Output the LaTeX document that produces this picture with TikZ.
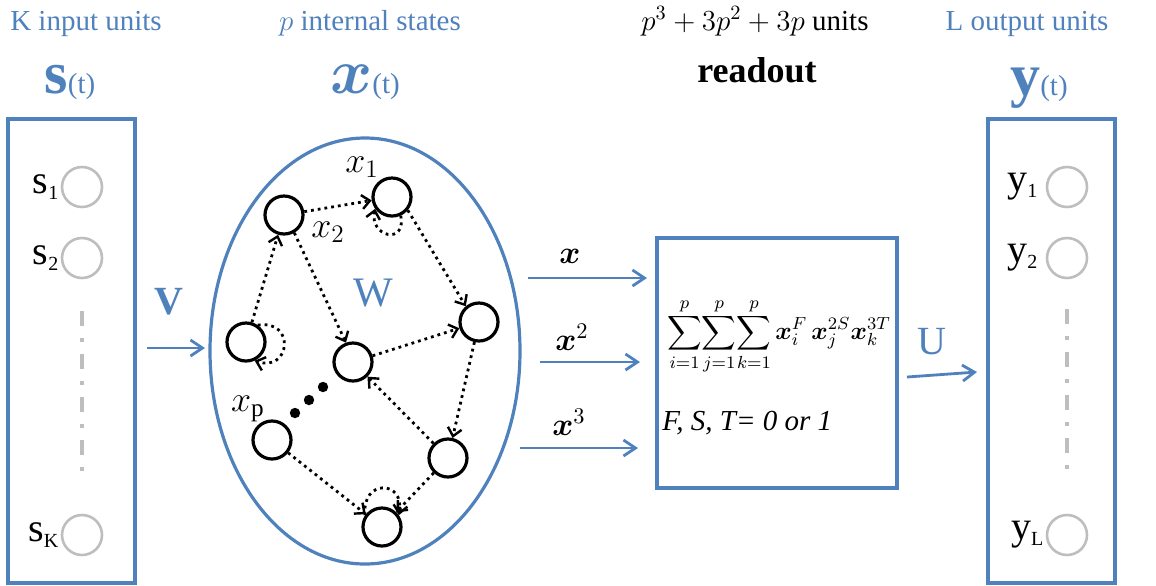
\documentclass[tikz,border=0pt]{standalone}
\usepackage{fix-cm}
\usepackage{exscale}
\usepackage{fontspec}
\setmainfont{Liberation Serif}
\usepackage{bm}
\usetikzlibrary{arrows.meta,shapes.geometric}
\definecolor{netblue}{RGB}{79,129,189}
\definecolor{unitgray}{RGB}{190,190,190}
\newcommand{\unitfont}{\fontsize{20}{20}\selectfont}
\newcommand{\statefont}{\fontsize{18}{18}\selectfont}
\newcommand{\unitsub}[1]{\raisebox{-3pt}{\fontsize{10}{10}\selectfont #1}}
\tikzset{
  unit/.style={circle,draw=unitgray,line width=1.3pt,minimum size=20pt,inner sep=0pt},
  state/.style={circle,draw=black,line width=1.6pt,minimum size=19pt,inner sep=0pt},
  link/.style={line width=1.4pt,dash pattern=on 1.4pt off 2pt,
    -{Straight Barb[length=4pt,width=7pt,line width=1.2pt]}},
  flow/.style={draw=netblue,line width=1.4pt,-{Straight Barb[length=6pt,width=8pt]}},
  frame/.style={draw=netblue,line width=1.6pt,inner sep=0pt},
  vdots/.style={draw=unitgray,line width=2pt,dash pattern=on 7.5pt off 6pt on 2pt off 6pt},
}
\begin{document}
\begin{tikzpicture}[x=0.5pt,y=-0.5pt,font=\fontsize{14.5}{17}\selectfont]
\useasboundingbox (0,0) rectangle (1156,585);
% headings
\node[anchor=base,text=netblue] (inhead) at (86,30) {K input units};
\node[anchor=base,text=netblue] (sthead) at (370,30) {$p$ internal states};
\node[anchor=base] (rohead) at (755,30) {$p^3+3p^2+3p$ \textrm{units}};
\node[anchor=base,font=\fontsize{18}{18}\selectfont\rmfamily\bfseries] (readlbl) at (757,82) {readout};
\node[anchor=base,text=netblue] (outhead) at (1027,30) {L output units};
\node[anchor=base,text=netblue,inner sep=0pt] (svec) at (70,93) {{\fontsize{30}{30}\selectfont\textbf{s}}(t)};
\node[anchor=base,text=netblue,inner sep=0pt] (xvec) at (365,93) {{\fontsize{32}{32}\selectfont$\bm{x}$}(t)};
\node[anchor=base,text=netblue,inner sep=0pt] (yvec) at (1039,95) {{\fontsize{30}{30}\selectfont\textbf{y}}(t)};
% boxes
\node[frame,minimum width=63.5pt,minimum height=232pt] (inbox) at (71.5,351) {};
\node[frame,minimum width=63.5pt,minimum height=232pt] (outbox) at (1051.5,351) {};
\node[frame,ellipse,minimum width=155pt,minimum height=213pt] (res) at (365,351) {};
\node[frame,minimum width=120pt,minimum height=125pt] (readout) at (777,363) {};
% input and output units
\node[unit] (s1) at (82,187) {};
\node[unit] (s2) at (82,258) {};
\node[unit] (sK) at (82,535) {};
\node[unit] (y1) at (1067,187) {};
\node[unit] (y2) at (1067,258) {};
\node[unit] (yL) at (1067,535) {};
\node[anchor=east,inner sep=1pt,font=\unitfont] (s1lbl) at (s1.west) {s\unitsub{1}};
\node[anchor=east,inner sep=1pt,font=\unitfont] (s2lbl) at (s2.west) {s\unitsub{2}};
\node[anchor=east,inner sep=1pt,font=\unitfont] (sKlbl) at (sK.west) {s\unitsub{K}};
\node[anchor=east,inner sep=4pt,font=\unitfont] (y1lbl) at (y1.west) {y\unitsub{1}};
\node[anchor=east,inner sep=4pt,font=\unitfont] (y2lbl) at (y2.west) {y\unitsub{2}};
\node[anchor=east,inner sep=1pt,font=\unitfont] (yLlbl) at (yL.west) {y\unitsub{L}};
\draw[vdots] ([yshift=-16pt]s2.south) -- ([yshift=16pt]sK.north);
\draw[vdots] ([yshift=-15pt]y2.south) -- ([yshift=18pt]yL.north);
% internal states
\node[state] (x1) at (392,197) {};
\node[state] (x2) at (284,215) {};
\node[state] (xr) at (479,322) {};
\node[state] (xl) at (246,342) {};
\node[state] (xm) at (353,362) {};
\node[state] (xp) at (272,440) {};
\node[state] (xd) at (448,458) {};
\node[state] (xb) at (382,527) {};
\node[font=\statefont] (x1lbl) at (362,167) {$x_1$};
\node[font=\statefont] (x2lbl) at (328,232) {$x_2$};
\node[font=\statefont] (xplbl) at (248,409) {$x_{\mathrm{p}}$};
\foreach \dx/\dy in {295/413,309/400,323/387}
  \fill (\dx,\dy) circle (2.6pt);
\draw[link] (x2) -- (x1);
\draw[link] (xl) -- (x2);
\draw[link] (x2.-60) -- (xm.110);
\draw[link] (x1.-40) -- (xr.130);
\draw[link] (xm) -- (xr);
\draw[link] (xr) -- (xd);
\draw[link] (xd) -- (xm);
\draw[link] (xp) -- (xb);
\draw[link] (xd) -- (xb);
\draw[link] (x1.295) .. controls +(6,30) and +(-6,28) .. (x1.215);
\draw[link] (xl.55) .. controls +(38,-6) and +(36,12) .. (xl.-65);
\draw[link] (xb.145) .. controls +(-4,-36) and +(6,-36) .. (xb.35);
\node[text=netblue,font=\fontsize{21}{21}\selectfont] (wlbl) at (373,293) {W};
% maps
\node[text=netblue,font=\fontsize{20}{20}\selectfont\bfseries] (vlbl) at (169,302) {V};
\node[text=netblue,font=\fontsize{20}{20}\selectfont] (ulbl) at (932,342) {U};
\coordinate (vfrom) at (147,348);
\coordinate (vto) at (205,348);
\draw[flow] (vfrom) -- (vto);
\coordinate (ufrom) at (907,377);
\coordinate (uto) at (977,372);
\draw[flow] (ufrom) -- (uto);
\foreach \i/\ya/\xa/\xb in {1/278/528/647, 2/362/540/640, 3/448/520/638}{
  \coordinate (pin\i) at (\xa,\ya);
  \coordinate (pout\i) at (\xb,\ya);
  \draw[flow] (pin\i) -- (pout\i);
}
\node[anchor=base west,inner sep=0pt,font=\fontsize{16}{16}\selectfont] (pw1) at (559,263) {$\bm{x}$};
\node[anchor=base west,inner sep=0pt,font=\fontsize{16}{16}\selectfont] (pw2) at (555,350) {$\bm{x}^2$};
\node[anchor=base west,inner sep=0pt,font=\fontsize{16}{16}\selectfont] (pw3) at (552,435) {$\bm{x}^3$};
% readout
\node[font=\fontsize{12.5}{12.5}\selectfont,inner sep=0pt] (sumlbl) at (779,336)
  {$\displaystyle\sum_{i=1}^{p}\!\sum_{j=1}^{p}\!\sum_{k=1}^{p}\bm{x}_i^{F}\,\bm{x}_j^{2S}\bm{x}_k^{3T}$};
\node[anchor=base west,inner sep=0pt] (condlbl) at (662,430) {\textit{F, S, T= 0 or 1}};
\end{tikzpicture}
\end{document}
